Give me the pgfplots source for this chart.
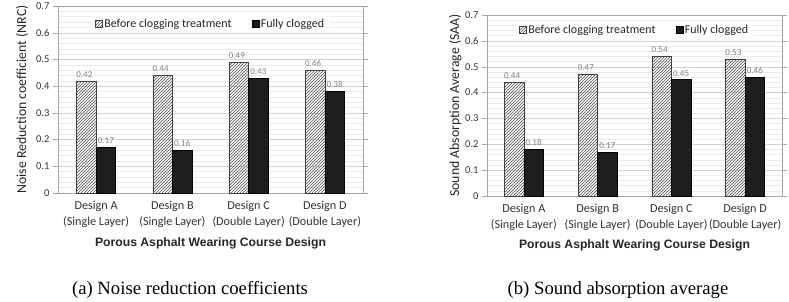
\documentclass[border=0pt]{standalone}
\usepackage{fontspec}
\setmainfont{Carlito}
\newfontfamily\arialfont{Liberation Sans}
\newfontfamily\timesfont{Liberation Serif}
\usepackage{pgfplots}
\pgfplotsset{compat=1.18}
\usetikzlibrary{patterns}
\definecolor{barblack}{HTML}{1E1E1E}
\definecolor{lblgray}{HTML}{7F7F7F}
\definecolor{framegray}{HTML}{A6A6A6}
\pgfplotsset{
  mybar/.style={
    scale only axis, ybar=0pt, bar width=19.5pt,
    ymin=0, ymax=0.7, ytick distance=0.1, minor y tick num=4,
    xmin=-0.5, xmax=3.5, xtick={0,1,2,3},
    xticklabels={{Design A\\(Single Layer)},{Design B\\(Single Layer)},{Design C\\(Double Layer)},{Design D\\(Double Layer)}},
    xticklabel style={align=center, font=\fontsize{12.2}{16}\selectfont, text=black!80},
    xtick style={draw=none},
    ymajorgrids, yminorgrids,
    major grid style={black!18}, minor grid style={black!8},
    axis line style={framegray},
    ytick style={framegray}, tick align=outside, major tick length=5pt, minor tick length=0pt,
    yticklabel style={font=\fontsize{10.5}{10.5}\selectfont, text=black!80},
    /pgf/number format/assume math mode=true,
    /pgf/number format/fixed,
    nodes near coords,
    every node near coord/.append style={font=\fontsize{9}{9}\selectfont, text=lblgray},
    ylabel style={at={(axis description cs:-0.118,0.5)}, anchor=center, font=\fontsize{13.8}{14}\selectfont, text=black!85},
    xlabel style={anchor=center, font=\arialfont\bfseries\fontsize{12.2}{13}\selectfont, text=black!85},
    legend columns=2,
    legend style={draw=none, fill=white, anchor=center, font=\fontsize{12}{12}\selectfont, text=black!85,
      /tikz/every even column/.append style={column sep=18pt}},
    area legend,
    legend image code/.code={\draw[#1] (0pt,-3.5pt) rectangle (7pt,3.5pt);},
  },
  hatch/.style={draw=black!75, pattern=north east lines, pattern color=black!70,
    every node near coord/.append style={xshift=-2pt}},
  solid/.style={draw=black, fill=barblack},
}
\begin{document}
\begin{tikzpicture}
\useasboundingbox (0pt,0pt) rectangle (789pt,301pt);
\begin{axis}[mybar, at={(58pt,108pt)}, anchor=south west, width=305pt, height=187pt,
  ylabel={Noise Reduction coefficient (NRC)},
  xlabel={Porous Asphalt Wearing Course Design},
  xlabel style={at={(axis description cs:0.5,-0.267)}},
  legend style={at={(0.5,0.904)}}]
\addplot[hatch] coordinates {(0,0.42) (1,0.44) (2,0.49) (3,0.46)};
\addplot[solid] coordinates {(0,0.17) (1,0.16) (2,0.43) (3,0.38)};
\legend{Before clogging treatment, Fully clogged}
\end{axis}
\begin{axis}[mybar, at={(487pt,105pt)}, anchor=south west, width=295pt, height=181pt,
  ylabel={Sound Absorption Average (SAA)},
  ylabel style={at={(axis description cs:-0.108,0.5)}},
  xlabel={Porous Asphalt Wearing Course Design},
  xlabel style={at={(axis description cs:0.5,-0.271)}},
  legend style={at={(0.5,0.917)}}]
\addplot[hatch] coordinates {(0,0.44) (1,0.47) (2,0.54) (3,0.53)};
\addplot[solid] coordinates {(0,0.18) (1,0.17) (2,0.45) (3,0.46)};
\legend{Before clogging treatment, Fully clogged}
\end{axis}
\node[font=\timesfont\fontsize{18.7}{19}\selectfont] at (190pt,11pt) {(a) Noise reduction coefficients};
\node[font=\timesfont\fontsize{18.7}{19}\selectfont] at (618pt,11pt) {(b) Sound absorption average};
\end{tikzpicture}
\end{document}
